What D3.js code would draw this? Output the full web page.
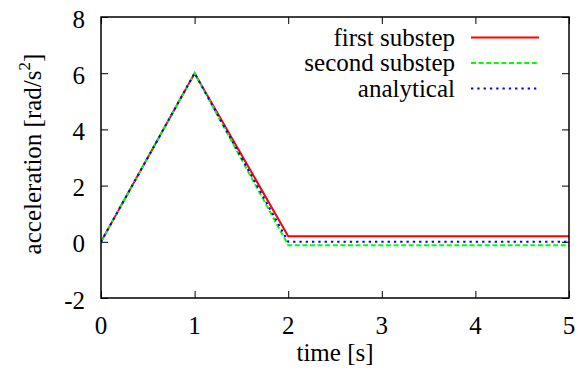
<!DOCTYPE html>
<html><head><meta charset="utf-8">
<script src="https://cdn.jsdelivr.net/npm/d3@7"></script>
<style>body{margin:0;background:#fff}svg{display:block}</style>
</head><body>
<script>
const time = [0, 1, 2, 5];
const firstSubstep = [0, 6, 0.2, 0.2];
const secondSubstep = [0, 6, -0.12, -0.12];
const analytical = [0, 6, 0, 0];
const xTicks = [0, 1, 2, 3, 4, 5];
const yTicks = [-2, 0, 2, 4, 6, 8];
const seriesNames = ["first substep", "second substep", "analytical"];

const W = 579, H = 381;
const m = {l: 101, r: 10, t: 17, b: 83};
const FONT = "Liberation Serif";
const svg = d3.select("body").append("svg").attr("width", W).attr("height", H);
const x = d3.scaleLinear().domain([0, 5]).range([m.l, W - m.r]);
const y = d3.scaleLinear().domain([-2, 8]).range([H - m.b, m.t]);
const fs = 25, tl = 7;

const series = [
  {name: seriesNames[0], vals: firstSubstep, color: "#ff0000", dash: null},
  {name: seriesNames[1], vals: secondSubstep, color: "#00ff00", dash: "5,2.6"},
  {name: seriesNames[2], vals: analytical, color: "#0000ff", dash: "2.3,4"}
];

function T(sel){ return sel.attr("font-family", FONT).attr("fill", "#000").attr("font-size", fs); }

// ticks (inward, mirrored)
const g = svg.append("g");
function styleAxis(sel){ sel.select(".domain").remove(); sel.selectAll("line").attr("stroke","#000").attr("stroke-width",1); sel.selectAll("text").remove(); }
g.append("g").attr("transform",`translate(0,${y(-2)})`).call(d3.axisBottom(x).tickValues(xTicks).tickSizeInner(-tl).tickSizeOuter(0)).call(styleAxis);
g.append("g").attr("transform",`translate(0,${y(8)})`).call(d3.axisTop(x).tickValues(xTicks).tickSizeInner(-tl).tickSizeOuter(0)).call(styleAxis);
g.append("g").attr("transform",`translate(${x(0)},0)`).call(d3.axisLeft(y).tickValues(yTicks).tickSizeInner(-tl).tickSizeOuter(0)).call(styleAxis);
g.append("g").attr("transform",`translate(${x(5)},0)`).call(d3.axisRight(y).tickValues(yTicks).tickSizeInner(-tl).tickSizeOuter(0)).call(styleAxis);

// tick labels
svg.append("g").selectAll("text").data(xTicks).join("text").call(T)
  .attr("x", d => x(d)).attr("y", y(-2) + 36).attr("text-anchor","middle").text(d => d);
svg.append("g").selectAll("text").data(yTicks).join("text").call(T)
  .attr("x", x(0) - 16).attr("y", d => y(d) + 10.5).attr("text-anchor","end").text(d => d);

// lines
const line = d3.line().x((d,i) => x(time[i])).y(d => y(d));
svg.append("clipPath").attr("id","c").append("rect")
  .attr("x", x(0)).attr("y", y(8)).attr("width", x(5)-x(0)).attr("height", y(-2)-y(8));
series.forEach(s => {
  svg.append("path").attr("d", line(s.vals)).attr("fill","none").attr("stroke", s.color)
    .attr("stroke-width", 2).attr("stroke-dasharray", s.dash).attr("clip-path","url(#c)");
});

// frame
svg.append("rect").attr("x", x(0)).attr("y", y(8)).attr("width", x(5)-x(0)).attr("height", y(-2)-y(8))
  .attr("fill","none").attr("stroke","#000").attr("stroke-width",1.5);

// legend
const lg = svg.append("g");
series.forEach((s, i) => {
  const yy = 37.5 + i * 25.5;
  lg.append("text").call(T).attr("x", 455).attr("y", yy + 8).attr("text-anchor","end").text(s.name);
  lg.append("line").attr("x1", 471).attr("x2", 539).attr("y1", yy).attr("y2", yy)
    .attr("stroke", s.color).attr("stroke-width", 2).attr("stroke-dasharray", s.dash);
});

// axis titles
svg.append("text").call(T).attr("x", (x(0)+x(5))/2).attr("y", 361).attr("text-anchor","middle").text("time [s]");
const yl = svg.append("text").call(T).attr("transform", `translate(41,154) rotate(-90)`)
  .attr("text-anchor","middle");
yl.append("tspan").text("acceleration [rad/s");
yl.append("tspan").attr("font-size", 17).attr("dy", -11).text("2");
yl.append("tspan").attr("dy", 11).text("]");
</script>
</body></html>
